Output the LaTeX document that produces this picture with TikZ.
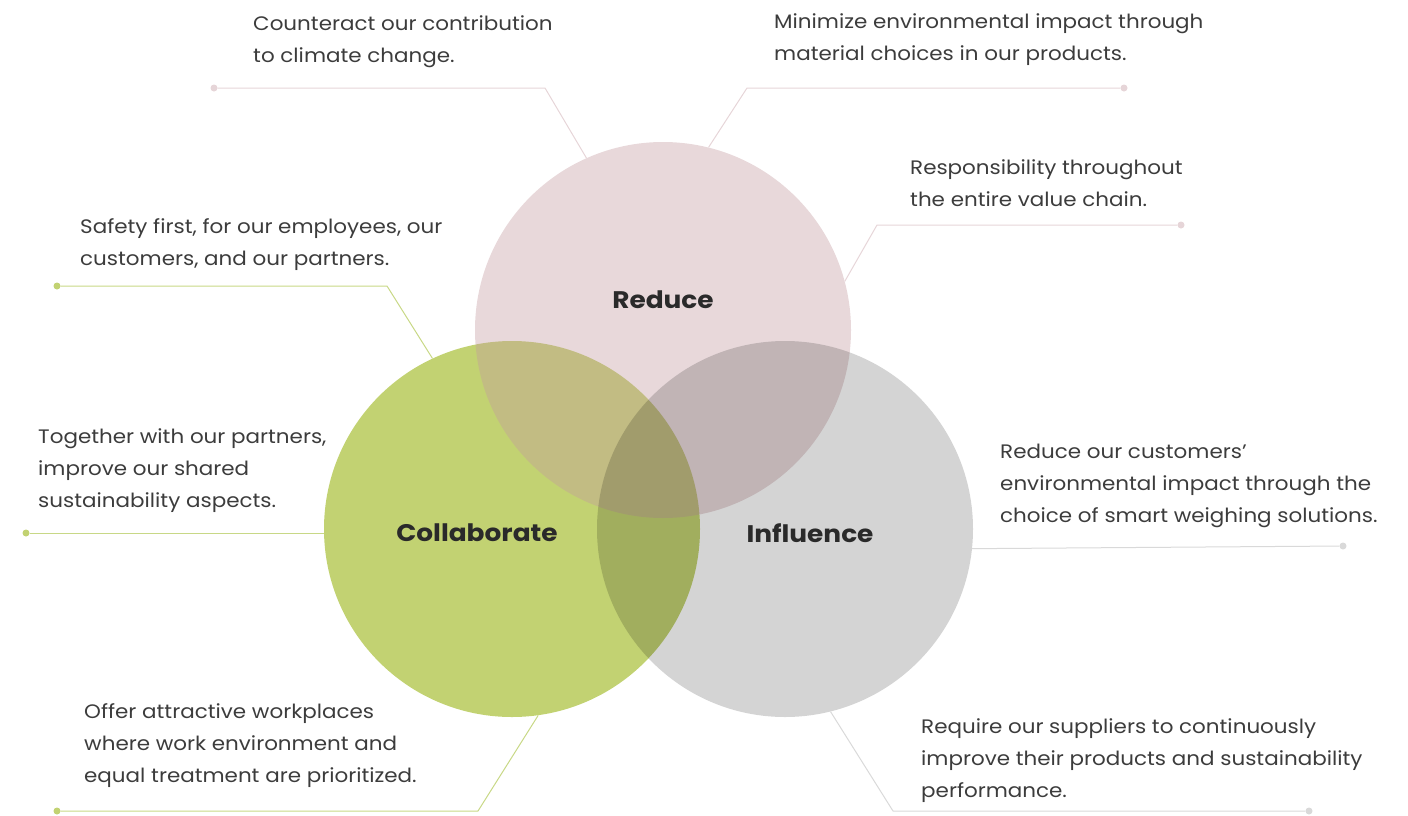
\documentclass[tikz,border=0pt]{standalone}
\usepackage{fontspec}
\setmainfont[FakeStretch=1.1]{Poppins}
\usetikzlibrary{calc}

\definecolor{leaf}{HTML}{C2D272}
\definecolor{rose}{HTML}{C49BA0}
\definecolor{roseline}{HTML}{E6D5D8}
\definecolor{leafline}{HTML}{C8D886}
\definecolor{greyline}{HTML}{D9D9D9}
\definecolor{txt}{HTML}{3C3C3C}
\definecolor{head}{HTML}{2A2A2A}

\tikzset{
  blurb/.style={anchor=north west, align=left, inner sep=0pt, text=txt,
    font=\fontsize{19.5}{32}\selectfont},
  headline/.style={text=head, font=\fontsize{24}{28}\selectfont\bfseries},
  ring/.style={circle, minimum size=376pt, inner sep=0pt},
  pin/.style={circle, inner sep=0pt, minimum size=7pt},
  lead/.style={line width=1pt, line join=round},
}

\begin{document}
\begin{tikzpicture}[x=1pt, y=-1pt]

  \useasboundingbox (0,0) rectangle (1408,815);

  %CIRCLES (green first, rose and grey shaded on top)
  \node[ring, fill=leaf] (collab) at (512,529) {};
  \node[ring, fill=rose, fill opacity=0.39] (reduce) at (663,330) {};
  \node[ring, fill=black, fill opacity=0.17] (infl) at (785,529) {};

  \node[headline] (reduceT) at (663,300) {Reduce};
  \node[headline] (collabT) at (477,533) {Collaborate};
  \node[headline] (inflT) at (810,533) {Influence};

  %REDUCE -- rose leads
  \node[blurb] (r1) at (253,15) {Counteract our contribution\\to climate change.};
  \node[pin, fill=roseline] (r1p) at (214,88) {};
  \draw[lead, roseline] (r1p) -- ++(331,0) -- (reduce.114);

  \node[blurb] (r2) at (774,13) {Minimize environmental impact through\\material choices in our products.};
  \node[pin, fill=roseline] (r2p) at (1124,88) {};
  \draw[lead, roseline] (r2p) -- ++(-377,0) -- (reduce.76);

  \node[blurb] (r3) at (910,159) {Responsibility throughout\\the entire value chain.};
  \node[pin, fill=roseline] (r3p) at (1181,225) {};
  \draw[lead, roseline] (r3p) -- ++(-304,0) -- (reduce.15);

  %COLLABORATE -- green leads
  \node[blurb] (c1) at (80,218) {Safety first, for our employees, our\\customers, and our partners.};
  \node[pin, fill=leaf] (c1p) at (57,286) {};
  \draw[lead, leafline] (c1p) -- ++(330,0) -- (collab.115);

  \node[blurb] (c2) at (38,428) {Together with our partners,\\improve our shared\\sustainability aspects.};
  \node[pin, fill=leaf] (c2p) at (26,533) {};
  \draw[lead, leafline] (c2p) -- (c2p -| collab.west);

  \node[blurb] (c3) at (84,703) {Offer attractive workplaces\\where work environment and\\equal treatment are prioritized.};
  \node[pin, fill=leaf] (c3p) at (57,811) {};
  \draw[lead, leafline] (c3p) -- ++(421,0) -- (collab.-82);

  %INFLUENCE -- grey leads
  \node[blurb] (i1) at (1000,444) {Reduce our customers'\\environmental impact through the\\choice of smart weighing solutions.};
  \node[pin, fill=greyline] (i1p) at (1343,546) {};
  \draw[lead, greyline] (infl.-6) -- (i1p);

  \node[blurb] (i2) at (921,718) {Require our suppliers to continuously\\improve their products and sustainability\\performance.};
  \node[pin, fill=greyline] (i2p) at (1309,811) {};
  \draw[lead, greyline] (i2p) -- ++(-416,0) -- (infl.-76);

\end{tikzpicture}
\end{document}
